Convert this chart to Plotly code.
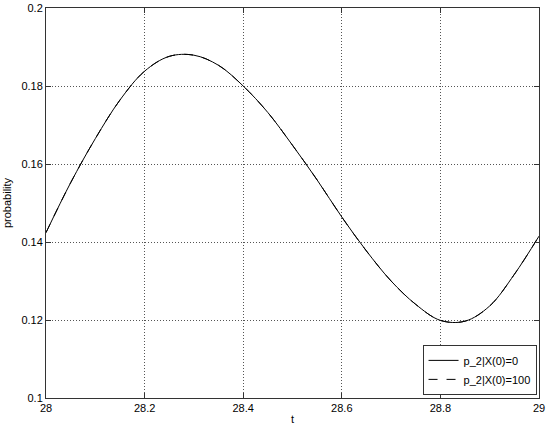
import plotly.graph_objects as go

# time samples (every 0.05)
t = [28.00, 28.05, 28.10, 28.15, 28.20, 28.25, 28.30, 28.35, 28.40, 28.45, 28.50,
     28.55, 28.60, 28.65, 28.70, 28.75, 28.80, 28.85, 28.90, 28.95, 29.00]

p2_x0 = [0.1424, 0.1552, 0.1665, 0.1764, 0.1838, 0.1876, 0.1879, 0.1853, 0.1800,
         0.1732, 0.1648, 0.1559, 0.1464, 0.1377, 0.1300, 0.1240, 0.1199, 0.1197,
         0.1236, 0.1317, 0.1415]

# second initial condition sits right on top of the first one
p2_x100 = list(p2_x0)

x_ticks = [28, 28.2, 28.4, 28.6, 28.8, 29]
y_ticks = [0.1, 0.12, 0.14, 0.16, 0.18, 0.2]

FONT = "Liberation Sans, Arial, sans-serif"

fig = go.Figure()
fig.add_trace(go.Scatter(
    x=t, y=p2_x0, mode="lines", name="p_2|X(0)=0",
    line=dict(color="black", width=1, shape="spline", smoothing=1.0),
))
fig.add_trace(go.Scatter(
    x=t, y=p2_x100, mode="lines", name="p_2|X(0)=100",
    line=dict(color="black", width=1, dash="dash", shape="spline", smoothing=1.0),
))

axis_common = dict(
    showline=True, linecolor="#333333", linewidth=1, mirror="ticks",
    ticks="inside", ticklen=5, tickcolor="#333333",
    showgrid=True, gridcolor="#555555", griddash="1px,2px", gridwidth=1,
    zeroline=False, automargin=False,
    tickfont=dict(size=11, color="black", family=FONT),
)

fig.update_xaxes(
    range=[28, 29], tickvals=x_ticks, ticktext=[f"{v:g}" for v in x_ticks],
    title=dict(text="t", font=dict(size=11, color="black", family=FONT), standoff=2),
    **axis_common,
)
fig.update_yaxes(
    range=[0.1, 0.2], tickvals=y_ticks, ticktext=[f"{v:g}" for v in y_ticks],
    title=dict(text="probability", font=dict(size=11, color="black", family=FONT), standoff=7),
    **axis_common,
)

fig.update_layout(
    width=550, height=433,
    margin=dict(l=46, r=11, t=8, b=35),
    paper_bgcolor="white", plot_bgcolor="white",
    font=dict(family=FONT, size=11, color="black"),
    legend=dict(
        x=0.995, y=0.008, xanchor="right", yanchor="bottom",
        bordercolor="#333333", borderwidth=1, bgcolor="white",
        font=dict(size=11, family=FONT), tracegroupgap=0, itemwidth=30,
    ),
)

fig.write_html("out.html", config={"displayModeBar": False},
               post_script="document.body.style.margin='0';")
